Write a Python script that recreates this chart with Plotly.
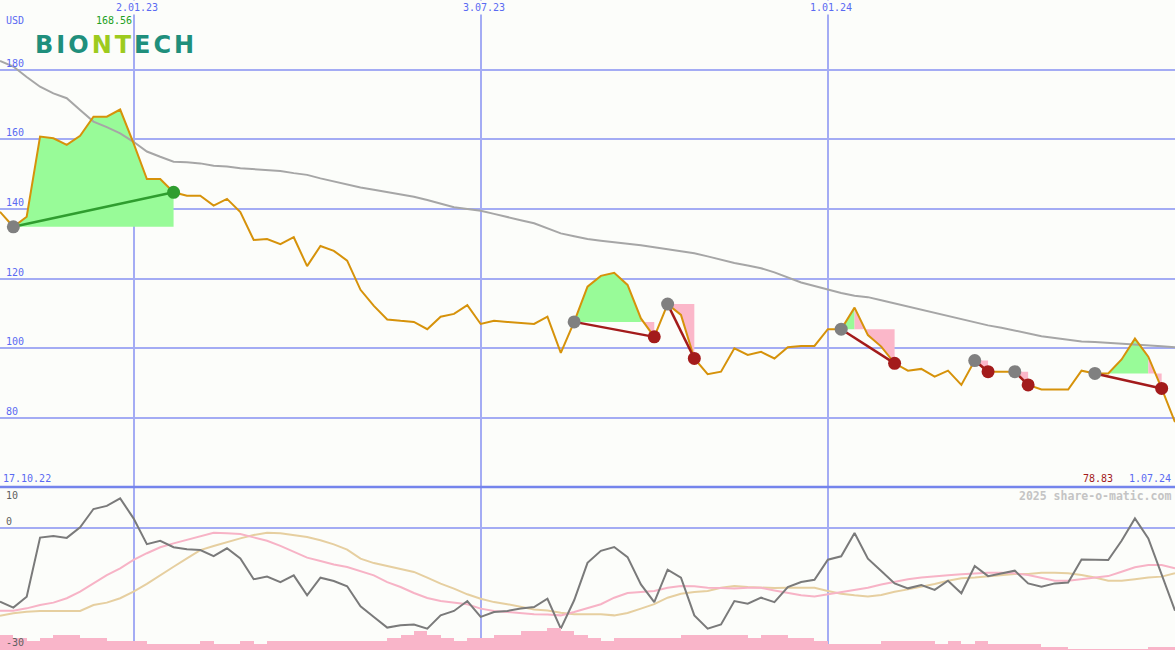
"""
BioNTech weekly price chart with signal markers and an oscillator pane.
"""

import pandas as pd
import plotly.graph_objects as go

# Weekly closes in USD, first week 24.10.22, last week 1.07.24
price = [
    139.2, 134.9, 137.8, 160.8, 160.3, 158.4, 161.0, 166.5, 166.5, 168.56,
    158.9, 148.6, 148.6, 144.8, 143.8, 143.8, 141.0, 142.9, 139.1, 131.1,
    131.4, 129.9, 131.9, 123.6, 129.4, 128.0, 125.2, 116.8, 112.2, 108.3,
    107.9, 107.6, 105.5, 109.1, 109.9, 112.4, 107.0, 107.9, 107.6, 107.4,
    107.0, 109.1, 98.7, 107.6, 117.7, 120.8, 121.7, 118.2, 108.6, 103.3,
    112.7, 109.6, 97.1, 92.6, 93.3, 100.0, 98.1, 99.0, 97.1, 100.3,
    100.7, 100.7, 105.5, 105.5, 111.7, 103.8, 100.5, 95.7, 93.6, 94.1,
    91.9, 93.6, 89.5, 96.5, 93.3, 93.3, 93.3, 89.5, 88.2, 88.2,
    88.2, 93.6, 92.8, 92.8, 96.8, 102.8, 97.6, 88.5, 78.83,
]

# Long moving average of the price (grey line)
moving_avg = [
    182.5, 180.9, 177.9, 175.1, 173.2, 171.8, 168.4, 165.1, 163.5, 161.7,
    159.3, 156.5, 155.0, 153.6, 153.4, 153.1, 152.4, 152.2, 151.7, 151.4,
    151.2, 150.9, 150.3, 149.8, 148.8, 147.9, 146.9, 146.2, 145.5, 144.9,
    144.3, 143.5, 142.6, 141.5, 140.5, 140.0, 139.5, 138.6, 137.8, 136.8,
    135.9, 134.5, 133.0, 132.2, 131.4, 130.9, 130.5, 130.2, 129.6, 129.0,
    128.4, 127.9, 127.3, 126.4, 125.4, 124.5, 123.8, 123.0, 121.8, 120.3,
    118.9, 117.9, 116.8, 115.9, 115.1, 114.7, 113.8, 112.9, 112.0, 111.1,
    110.1, 109.2, 108.3, 107.4, 106.6, 105.9, 105.1, 104.3, 103.5, 103.0,
    102.5, 102.0, 101.8, 101.6, 101.4, 101.2, 100.9, 100.6, 100.3,
]

# Oscillator pane: momentum line and two smoothed versions of it
momentum = [
    -28.3, -30.6, -26.4, -3.7, -3.1, -3.8, 0.3, 7.3, 8.5, 11.4,
    3.7, -6.2, -4.9, -7.4, -8.2, -8.5, -10.8, -7.8, -11.7, -19.7,
    -18.7, -20.8, -18.2, -25.9, -19.1, -20.4, -22.4, -30.1, -34.2, -38.3,
    -37.4, -37.1, -38.7, -33.6, -31.9, -28.1, -34.2, -32.3, -31.9, -31.0,
    -30.4, -27.2, -38.7, -27.8, -13.4, -8.8, -7.3, -11.2, -21.7, -28.5,
    -16.0, -19.1, -33.6, -38.7, -37.1, -28.1, -29.1, -26.8, -28.5, -22.7,
    -20.8, -19.9, -12.2, -10.9, -1.9, -11.8, -16.5, -21.3, -23.2, -21.9,
    -23.8, -20.3, -25.1, -14.6, -18.5, -17.4, -16.4, -21.3, -22.6, -21.3,
    -21.0, -12.1, -12.3, -12.3, -4.9, 3.7, -4.0, -18.1, -31.8,
]
momentum_fast = [
    -31.8, -31.8, -30.9, -29.6, -28.7, -27.0, -24.5, -21.3, -18.1, -15.5,
    -12.3, -9.7, -7.4, -5.9, -4.6, -3.1, -1.8, -2.0, -2.3, -3.6,
    -4.9, -6.9, -9.1, -11.4, -12.7, -14.0, -15.0, -16.5, -18.2, -20.8,
    -22.7, -25.0, -26.9, -28.1, -28.8, -29.3, -31.0, -31.9, -32.3, -32.7,
    -33.2, -33.3, -33.6, -32.3, -30.9, -29.3, -26.8, -25.0, -24.6, -24.2,
    -23.0, -22.3, -22.4, -23.0, -23.1, -23.3, -23.0, -23.0, -24.0, -25.0,
    -25.9, -26.3, -25.5, -24.6, -24.0, -23.0, -21.7, -20.7, -19.7, -19.0,
    -18.7, -18.2, -17.8, -17.4, -17.2, -17.2, -17.4, -18.1, -19.3, -20.3,
    -20.3, -19.7, -19.0, -18.5, -16.8, -15.1, -14.2, -14.2, -15.5,
]
momentum_slow = [
    -33.8, -32.8, -32.2, -31.9, -31.9, -31.9, -31.9, -29.6, -28.7, -27.0,
    -24.5, -21.5, -18.1, -14.9, -11.7, -8.5, -6.9, -5.3, -4.0, -2.7,
    -1.8, -2.0, -2.7, -3.5, -4.7, -6.3, -8.3, -11.8, -13.5, -14.6,
    -15.7, -16.9, -19.1, -21.4, -23.3, -25.5, -27.2, -28.5, -29.3, -30.4,
    -31.3, -31.7, -32.6, -33.2, -33.3, -33.2, -33.6, -32.7, -31.0, -29.3,
    -26.8, -25.3, -24.6, -24.2, -23.0, -22.3, -22.7, -23.0, -23.1, -23.0,
    -23.0, -23.0, -24.2, -25.3, -25.9, -26.3, -25.8, -24.5, -23.6, -22.6,
    -21.5, -20.3, -19.3, -19.0, -18.5, -18.1, -17.7, -17.7, -17.2, -17.2,
    -17.4, -18.1, -19.0, -20.3, -20.3, -19.7, -19.0, -18.7, -17.4,
]

# Relative weekly volume (pink bars at the bottom)
volume = [
    15, 12, 9, 12, 15, 15, 12, 12, 9, 9,
    9, 6, 6, 6, 6, 9, 6, 6, 9, 6,
    9, 9, 9, 9, 9, 9, 9, 9, 9, 12,
    15, 19, 15, 12, 9, 12, 12, 15, 15, 19,
    19, 22, 19, 15, 12, 9, 12, 12, 12, 12,
    12, 15, 15, 15, 15, 15, 12, 15, 15, 12,
    12, 9, 6, 6, 6, 6, 9, 9, 9, 9,
    6, 9, 6, 9, 6, 6, 6, 6, 3, 3,
    1, 1, 1, 1, 1, 1, 3, 3, 3,
]

# Signals: start week, end week, week where the rising part stops, direction
signal_start = [1, 43, 50, 63, 73, 76, 82]
signal_end = [13, 49, 52, 67, 74, 77, 87]
signal_turn = [13, 48, 50, 64, 73, 76, 86]
signal_up = [True, False, False, False, False, False, False]

date_ticks = ["2023-01-02", "2023-07-03", "2024-01-01"]
date_tick_labels = ["2.01.23", "3.07.23", "1.01.24"]
price_ticks = [80, 100, 120, 140, 160, 180]

W, H = 1175, 650
SPLIT = 163 / H  # lower pane height share

BG = "#fcfdfa"
GRID = "#a4acf4"
BLUE_TEXT = "#5a6af2"
MONO = "DejaVu Sans Mono"
COLORS = {
    "price": "#d6920a",
    "avg": "#a6a6a6",
    "up_fill": "#98fb98",
    "down_fill": "#fbb7c9",
    "start_dot": "#808080",
    "up": "#2f9d2f",
    "down": "#a31b1b",
    "momentum": "#7a7a7a",
    "fast": "#f7b3c6",
    "slow": "#e6cfa0",
    "volume": "#f9b5c9",
}


def px_x(x):
    return x / W


def px_y(y):
    return 1 - y / H


def label(text, x, y, color=BLUE_TEXT, size=10, xanchor="left", **kw):
    """Text label placed by pixel position on the page."""
    return dict(
        text=text, x=px_x(x), y=px_y(y), xref="paper", yref="paper",
        xanchor=xanchor, yanchor="middle", showarrow=False,
        font=dict(family=MONO, size=size, color=color), **kw,
    )


dates = pd.date_range("2022-10-24", periods=len(price), freq="7D")

fig = go.Figure()

# Signal areas: green while the move is rising, pink after it turns
for start, end, turn, up in zip(signal_start, signal_end, signal_turn, signal_up):
    base = price[start]
    parts = [(start, turn, COLORS["up_fill"]), (turn, end, COLORS["down_fill"])]
    for a, b, color in parts:
        if b <= a:
            continue
        xs = list(dates[a:b + 1]) + [dates[b], dates[a]]
        ys = price[a:b + 1] + [base, base]
        fig.add_trace(go.Scatter(
            x=xs, y=ys, fill="toself", fillcolor=color, mode="lines",
            line=dict(width=0), hoverinfo="skip", showlegend=False,
        ))

fig.add_trace(go.Scatter(
    x=dates, y=moving_avg, mode="lines",
    line=dict(color=COLORS["avg"], width=2), showlegend=False,
))
fig.add_trace(go.Scatter(
    x=dates, y=price, mode="lines",
    line=dict(color=COLORS["price"], width=2), showlegend=False,
))

# Signal lines and dots
for start, end, up in zip(signal_start, signal_end, signal_up):
    color = COLORS["up"] if up else COLORS["down"]
    fig.add_trace(go.Scatter(
        x=[dates[start], dates[end]], y=[price[start], price[end]], mode="lines",
        line=dict(color=color, width=2.5), showlegend=False,
    ))
    fig.add_trace(go.Scatter(
        x=[dates[start], dates[end]], y=[price[start], price[end]], mode="markers",
        marker=dict(size=13, color=[COLORS["start_dot"], color], line=dict(width=0)),
        showlegend=False,
    ))

# Lower pane
for values, color in [
    (momentum_slow, COLORS["slow"]),
    (momentum_fast, COLORS["fast"]),
    (momentum, COLORS["momentum"]),
]:
    fig.add_trace(go.Scatter(
        x=dates, y=values, yaxis="y2", mode="lines",
        line=dict(color=color, width=2), showlegend=False,
    ))

fig.add_trace(go.Bar(
    x=dates, y=volume, yaxis="y3", width=7 * 24 * 3600 * 1000, offset=0,
    marker=dict(color=COLORS["volume"], line=dict(width=0)), showlegend=False,
))

annotations = []
for p in price_ticks:
    annotations.append(dict(
        text=str(p), x=px_x(4), xref="paper", y=p, yref="y",
        xanchor="left", yanchor="bottom", yshift=-1, showarrow=False,
        font=dict(family=MONO, size=10, color=BLUE_TEXT),
    ))
for d, t in zip(date_ticks, date_tick_labels):
    annotations.append(dict(
        text=t, x=d, xref="x", y=1, yref="paper", xanchor="center",
        yanchor="top", xshift=3, showarrow=False, bgcolor=BG,
        font=dict(family=MONO, size=10, color=BLUE_TEXT),
    ))
for v in [10, 0]:
    annotations.append(dict(
        text=str(v), x=px_x(4), xref="paper", y=v, yref="y2",
        xanchor="left", yanchor="bottom", yshift=-1, showarrow=False,
        font=dict(family=MONO, size=10, color="#606060"),
    ))

high = max(price)
logo_style = "letter-spacing:3px;color:"
annotations += [
    label("USD", 4, 21),
    label(f"{high:.2f}", 113.5, 21, color="#22a022", xanchor="center"),
    label("17.10.22", 1, 478),
    label(f"{price[-1]:.2f}", 1097.5, 478, color="#a31b1b", xanchor="center"),
    label("1.07.24", 1173, 478, xanchor="right"),
    label("<b>2025 share-o-matic.com</b>", 1173, 496, color="#c4c4c4",
          size=11.5, xanchor="right"),
    label("-30", 4, 642, color="#606060"),
    dict(
        text=(f'<span style="{logo_style}#1f8f7c">BIO</span>'
              f'<span style="{logo_style}#9dcb1e">NT</span>'
              f'<span style="{logo_style}#1f8f7c">ECH</span>'),
        x=px_x(33), y=px_y(45), xref="paper", yref="paper",
        xanchor="left", yanchor="middle", showarrow=False,
        font=dict(family="DejaVu Sans", size=24, weight="bold"),
    ),
]

fig.update_layout(
    width=W, height=H,
    margin=dict(l=0, r=0, t=0, b=0),
    paper_bgcolor=BG, plot_bgcolor=BG,
    showlegend=False,
    bargap=0,
    xaxis=dict(
        type="date", range=[dates[0], dates[-1]], tickvals=date_ticks,
        showticklabels=False, ticks="", showgrid=True, gridcolor=GRID,
        gridwidth=2, zeroline=False, showline=False, anchor="y2",
    ),
    yaxis=dict(
        domain=[SPLIT, 1], range=[60.2, 200.0], tickvals=price_ticks,
        showticklabels=False, ticks="", showgrid=True, gridcolor=GRID,
        gridwidth=2, zeroline=False, anchor="x",
    ),
    yaxis2=dict(
        domain=[0, SPLIT], range=[-46.92, 15.77], tickvals=[0],
        showticklabels=False, ticks="", showgrid=True, gridcolor=GRID,
        gridwidth=2, zeroline=False, anchor="x",
    ),
    yaxis3=dict(overlaying="y2", range=[0, 163], visible=False, anchor="x"),
    shapes=[dict(
        type="line", xref="paper", yref="paper", x0=0, x1=1, y0=SPLIT, y1=SPLIT,
        line=dict(color="#7484ec", width=2.5),
    )],
    annotations=annotations,
)

fig.write_html(
    "out.html",
    config={"displayModeBar": False},
    post_script="document.body.style.margin='0';document.body.style.overflow='hidden';",
)
